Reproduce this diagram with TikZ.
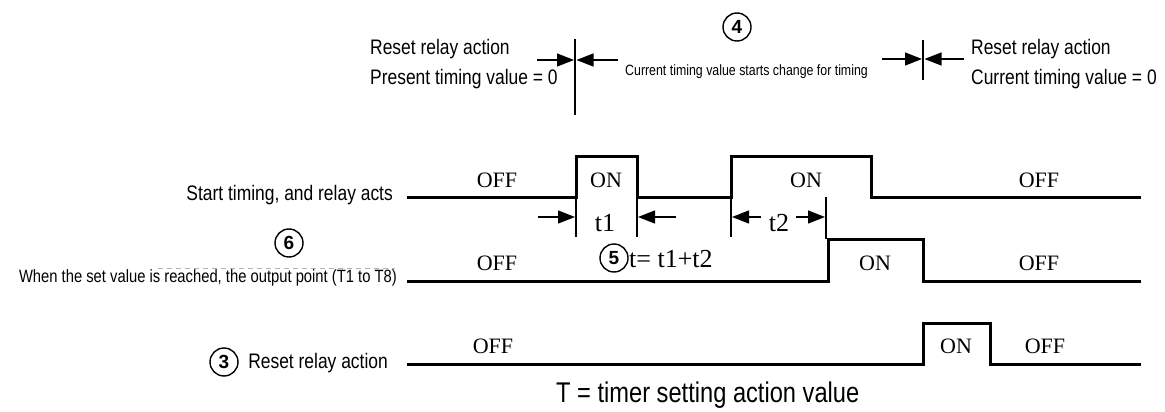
\documentclass[tikz,border=0pt]{standalone}
\usepackage{fontspec}
\usetikzlibrary{arrows.meta}
\newfontfamily\labfont[FakeStretch=0.83]{Liberation Sans}
\newfontfamily\wavfont{Liberation Serif}
\newfontfamily\numfont{Liberation Sans}
\tikzset{
  wave/.style={line width=3pt, line join=miter},
  marker/.style={line width=1.3pt},
  dimarrow/.style={line width=1.3pt, -{Triangle[length=17pt,width=13pt]}},
  biglab/.style={inner sep=0pt, font=\labfont\fontsize{21}{21}\selectfont},
  midlab/.style={inner sep=0pt, font=\labfont\fontsize{17.8}{18}\selectfont},
  smalllab/.style={inner sep=0pt, font=\labfont\fontsize{14.9}{15}\selectfont},
  hugelab/.style={inner sep=0pt, font=\labfont\fontsize{28.5}{29}\selectfont},
  state/.style={inner sep=0pt, anchor=base, font=\wavfont\fontsize{22}{22}\selectfont},
  tlab/.style={inner sep=0pt, anchor=base, font=\wavfont\fontsize{26}{26}\selectfont},
  circnum/.style={draw, circle, line width=1.4pt, minimum size=28pt, inner sep=0pt, font=\numfont\bfseries\fontsize{19}{19}\selectfont}
}
\begin{document}
\begin{tikzpicture}[x=1pt,y=-1pt]
\useasboundingbox (0,0) rectangle (1165,412);

% ---- top markers ----
\node[circnum] (c4) at (737,27) {4};
\draw[marker] (575,39) -- (575,115);
\draw[dimarrow] (537,60) -- (574,60);
\draw[dimarrow] (618,60) -- (576.5,60);
\draw[marker] (923,40) -- (923,80);
\draw[dimarrow] (882,59) -- (922,59);
\draw[dimarrow] (964,59) -- (924.5,59);

\node[biglab, anchor=base west] (rl1) at (370,54.5) {Reset relay action};
\node[biglab, anchor=base west] (pt0) at (370,84.5) {Present timing value = 0};
\node[smalllab, anchor=base west] (cur) at (625,75) {Current timing value starts change for timing};
\node[biglab, anchor=base west] (rl2) at (971,54.5) {Reset relay action};
\node[biglab, anchor=base west] (ct0) at (971,84.5) {Current timing value = 0};

% ---- row 1 ----
\node[biglab, anchor=base east] (lab1) at (393,200) {Start timing, and relay acts};
\draw[wave] (407,197) -- (576,197) -- (576,156) -- (637,156) -- (637,197) -- (731,197) -- (731,156) -- (871,156) -- (871,197) -- (1141,197);
\node[state] (r1off1) at (497,187) {OFF};
\node[state] (r1on1) at (606,187) {ON};
\node[state] (r1on2) at (806,187) {ON};
\node[state] (r1off2) at (1039,187) {OFF};

% t1 / t2 markers
\draw[marker] (576,197) -- (576,237);
\draw[marker] (637,197) -- (637,237);
\draw[dimarrow] (538,217) -- (575,217);
\draw[dimarrow] (676,217) -- (638,217);
\node[tlab] (t1) at (605,231) {t1};
\draw[marker] (731,197) -- (731,237);
\draw[marker] (826,197) -- (826,239);
\draw[dimarrow] (761,217) -- (732,217);
\draw[dimarrow] (796,217) -- (825,217);
\node[tlab] (t2) at (779,231) {t2};

% ---- row 2 ----
\node[circnum] (c6) at (289,243) {6};
\draw[gray!60, line width=0.8pt, dash pattern=on 5pt off 4pt] (158,268) -- (395,268);
\node[midlab, anchor=base east] (lab2) at (397,282) {When the set value is reached, the output point (T1 to T8)};
\draw[wave] (407,281) -- (828,281) -- (828,239) -- (923,239) -- (923,281) -- (1141,281);
\node[state] (r2off1) at (497,270) {OFF};
\node[circnum] (c5) at (614,258) {5};
\node[tlab, anchor=base west] (teq) at (629,267) {t= t1+t2};
\node[state] (r2on) at (875,270) {ON};
\node[state] (r2off2) at (1039,270) {OFF};

% ---- row 3 ----
\node[circnum] (c3) at (224,362) {3};
\node[biglab, anchor=base east] (lab3) at (388,368) {Reset relay action};
\draw[wave] (407,364) -- (923,364) -- (923,323) -- (990,323) -- (990,364) -- (1141,364);
\node[state] (r3off1) at (493,353) {OFF};
\node[state] (r3on) at (956,353) {ON};
\node[state] (r3off2) at (1045,353) {OFF};

\node[hugelab, anchor=base west] (tdef) at (556,402) {T = timer setting action value};
\end{tikzpicture}
\end{document}
